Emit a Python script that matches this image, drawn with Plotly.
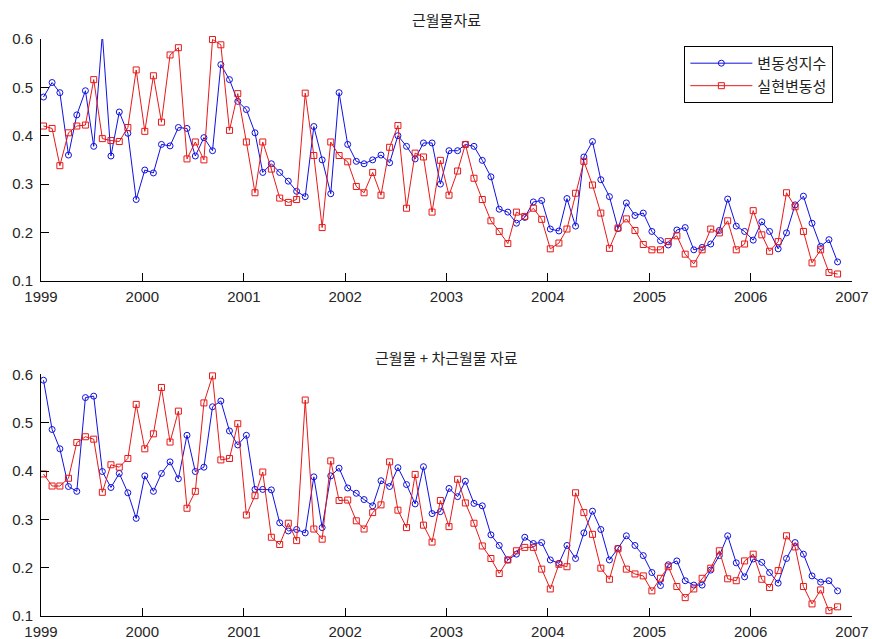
import plotly.graph_objects as go

# monthly observation dates (Jan 1999 .. Nov 2006)
dates = [f"{1999 + i // 12}-{i % 12 + 1:02d}-10" for i in range(95)]

year_ticks = [f"{y}-01-01" for y in range(1999, 2008)]
year_labels = [str(y) for y in range(1999, 2008)]
y_ticks = [0.1, 0.2, 0.3, 0.4, 0.5, 0.6]

titles = ["근월물자료", "근월물 + 차근월물 자료"]
series_names = ["변동성지수", "실현변동성"]

# top panel: near-month data
top_index = [
    0.480, 0.510, 0.489, 0.360, 0.443, 0.493, 0.378, 0.610, 0.358, 0.449, 0.405, 0.268,
    0.329, 0.323, 0.382, 0.379, 0.417, 0.415, 0.358, 0.396, 0.369, 0.547, 0.516, 0.471,
    0.454, 0.406, 0.324, 0.342, 0.324, 0.306, 0.285,
    0.274, 0.419, 0.350, 0.280, 0.489, 0.382, 0.347, 0.342, 0.350, 0.360, 0.344, 0.400,
    0.378, 0.352, 0.385, 0.385, 0.300, 0.369, 0.369, 0.382, 0.378, 0.349, 0.315, 0.248,
    0.242, 0.219, 0.231, 0.263, 0.266, 0.207, 0.203, 0.270, 0.213,
    0.356, 0.388, 0.309, 0.274, 0.208, 0.261, 0.235, 0.240, 0.202, 0.183, 0.174, 0.205,
    0.210, 0.164, 0.169, 0.176, 0.204, 0.269, 0.213, 0.202, 0.184, 0.222, 0.202, 0.166,
    0.199, 0.257, 0.275, 0.219, 0.171, 0.185, 0.139,
]
top_realized = [
    0.420, 0.415, 0.338, 0.406, 0.420, 0.422, 0.516, 0.394, 0.390, 0.388, 0.417, 0.536,
    0.409, 0.524, 0.428, 0.567, 0.582, 0.352, 0.387, 0.350, 0.599, 0.588, 0.411, 0.487,
    0.387, 0.282, 0.387, 0.331, 0.271, 0.262, 0.268,
    0.488, 0.359, 0.210, 0.387, 0.359, 0.346, 0.295, 0.282, 0.324, 0.277, 0.376, 0.421,
    0.250, 0.364, 0.356, 0.242, 0.349, 0.277, 0.327, 0.382, 0.312, 0.268, 0.224, 0.202,
    0.177, 0.242, 0.233, 0.250, 0.227, 0.166, 0.178, 0.207, 0.281,
    0.347, 0.298, 0.240, 0.167, 0.209, 0.228, 0.204, 0.175, 0.164, 0.164, 0.181, 0.193,
    0.155, 0.135, 0.164, 0.207, 0.199, 0.224, 0.164, 0.176, 0.245, 0.195, 0.161, 0.181,
    0.282, 0.253, 0.202, 0.137, 0.164, 0.117, 0.114,
]

# bottom panel: near-month + next-month data
bot_index = [
    0.588, 0.486, 0.446, 0.368, 0.358, 0.552, 0.555, 0.399, 0.366, 0.395, 0.355, 0.302,
    0.390, 0.358, 0.395, 0.419, 0.384, 0.474, 0.399, 0.408, 0.533, 0.545, 0.483, 0.454,
    0.474, 0.362, 0.362, 0.361, 0.293, 0.276, 0.279,
    0.272, 0.388, 0.283, 0.390, 0.406, 0.365, 0.354, 0.341, 0.328, 0.380, 0.368, 0.407,
    0.372, 0.332, 0.409, 0.312, 0.316, 0.364, 0.347, 0.379, 0.333, 0.328, 0.268, 0.246,
    0.216, 0.228, 0.263, 0.250, 0.252, 0.216, 0.209, 0.246, 0.219,
    0.272, 0.317, 0.279, 0.216, 0.240, 0.266, 0.246, 0.225, 0.190, 0.163, 0.206, 0.214,
    0.173, 0.164, 0.164, 0.195, 0.225, 0.266, 0.210, 0.181, 0.218, 0.211, 0.190, 0.168,
    0.219, 0.252, 0.228, 0.183, 0.170, 0.173, 0.152,
]
bot_realized = [
    0.394, 0.369, 0.369, 0.385, 0.459, 0.471, 0.466, 0.356, 0.413, 0.408, 0.426, 0.538,
    0.446, 0.477, 0.573, 0.460, 0.524, 0.323, 0.358, 0.541, 0.597, 0.423, 0.426, 0.498,
    0.309, 0.349, 0.398, 0.263, 0.248, 0.292, 0.256,
    0.547, 0.280, 0.259, 0.421, 0.339, 0.340, 0.297, 0.280, 0.314, 0.330, 0.419, 0.319,
    0.283, 0.393, 0.288, 0.253, 0.339, 0.285, 0.383, 0.334, 0.292, 0.245, 0.219, 0.188,
    0.216, 0.235, 0.242, 0.242, 0.197, 0.156, 0.207, 0.202, 0.355,
    0.314, 0.269, 0.199, 0.176, 0.239, 0.197, 0.187, 0.183, 0.152, 0.178, 0.202, 0.161,
    0.138, 0.156, 0.178, 0.199, 0.235, 0.177, 0.173, 0.214, 0.228, 0.176, 0.159, 0.194,
    0.266, 0.243, 0.161, 0.125, 0.154, 0.111, 0.119,
]

BLUE = "#1010e0"
RED = "#e81818"

fig = go.Figure()

def add_pair(idx, real, xa, ya, show, clip_blue):
    fig.add_trace(go.Scatter(
        x=dates, y=idx, mode="lines+markers", name=series_names[0],
        line=dict(color=BLUE, width=1),
        marker=dict(symbol="circle-open", size=6, color=BLUE, line=dict(width=1, color=BLUE)),
        xaxis=xa, yaxis=ya, showlegend=show, cliponaxis=clip_blue,
    ))
    fig.add_trace(go.Scatter(
        x=dates, y=real, mode="lines+markers", name=series_names[1],
        line=dict(color=RED, width=1),
        marker=dict(symbol="square-open", size=6, color=RED, line=dict(width=1, color=RED)),
        xaxis=xa, yaxis=ya, showlegend=show, cliponaxis=False,
    ))

add_pair(top_index, top_realized, "x", "y", True, True)
add_pair(bot_index, bot_realized, "x2", "y2", False, False)

axis_font = dict(family="Arial, Liberation Sans, sans-serif", size=15, color="#262626")
kr_font = dict(family="Noto Sans CJK KR", size=15, color="#222222")

xcommon = dict(
    type="date", range=["1999-01-01", "2007-01-01"], tickmode="array",
    tickvals=year_ticks, ticktext=year_labels, ticks="inside", ticklen=8,
    tickcolor="black", showline=True, linecolor="black", linewidth=1,
    showgrid=False, zeroline=False, tickfont=axis_font, mirror=False,
    ticklabelstandoff=2,
)
ycommon = dict(
    range=[0.1, 0.6], tickmode="array", tickvals=y_ticks,
    ticktext=[f"{v:.1f}" for v in y_ticks], ticks="inside", ticklen=8,
    tickcolor="black", showline=True, linecolor="black", linewidth=1,
    showgrid=False, zeroline=False, tickfont=axis_font, mirror=False,
    ticklabelstandoff=4,
)

fig.update_layout(
    width=872, height=639,
    margin=dict(l=40.5, r=20, t=38.7, b=23, autoexpand=False),
    paper_bgcolor="white", plot_bgcolor="white",
    xaxis=dict(xcommon, domain=[0, 1], anchor="y"),
    yaxis=dict(ycommon, domain=[0.581, 1.0], anchor="x"),
    xaxis2=dict(xcommon, domain=[0, 1], anchor="y2"),
    yaxis2=dict(ycommon, domain=[0.0, 0.4187], anchor="x2"),
    legend=dict(
        x=0.977, y=0.988, xanchor="right", yanchor="top",
        bgcolor="white", bordercolor="black", borderwidth=1,
        font=kr_font, tracegroupgap=0, itemwidth=62,
    ),
    annotations=[
        dict(text=titles[0], x=0.5, y=1.0346, xref="paper", yref="paper",
             showarrow=False, xanchor="center", yanchor="middle", font=kr_font),
        dict(text=titles[1], x=0.5, y=0.448, xref="paper", yref="paper",
             showarrow=False, xanchor="center", yanchor="middle", font=kr_font),
    ],
)

# remove the default page margin so the 872x639 figure fills the window exactly
fig.write_html(
    "out.html",
    config={"displayModeBar": False},
    post_script="document.body.style.margin='0px';document.body.style.overflow='hidden';",
)
